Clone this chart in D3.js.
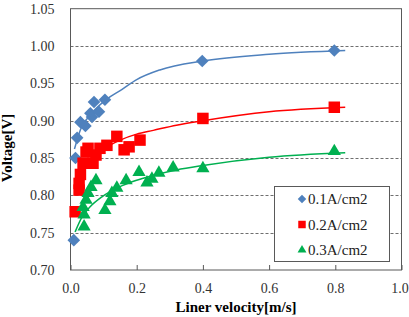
<!DOCTYPE html>
<html><head><meta charset="utf-8">
<script src="https://cdn.jsdelivr.net/npm/d3@7"></script>
<style>body{margin:0;background:#fff}svg{display:block}</style>
</head><body>
<svg id="c" width="409" height="317"></svg>
<script>
const seriesNames = ["0.1A/cm2", "0.2A/cm2", "0.3A/cm2"];
const colors = ["#4F81BD", "#FF0000", "#00B050"];
// measured points [velocity, voltage]
const s1 = [[0.010,0.740],[0.015,0.850],[0.020,0.877],[0.030,0.898],[0.045,0.893],[0.060,0.910],[0.065,0.905],[0.071,0.925],[0.086,0.912],[0.104,0.928],[0.398,0.980],[0.797,0.994]];
const s2 = [[0.014,0.778],[0.026,0.807],[0.026,0.816],[0.030,0.828],[0.038,0.843],[0.047,0.858],[0.053,0.863],[0.068,0.843],[0.077,0.854],[0.089,0.863],[0.110,0.867],[0.140,0.879],[0.162,0.861],[0.177,0.865],[0.210,0.874],[0.400,0.903],[0.797,0.918]];
const s3 = [[0.041,0.758],[0.041,0.774],[0.038,0.784],[0.047,0.794],[0.053,0.803],[0.062,0.811],[0.077,0.820],[0.104,0.780],[0.119,0.792],[0.125,0.803],[0.140,0.810],[0.168,0.820],[0.207,0.831],[0.231,0.817],[0.246,0.822],[0.267,0.830],[0.310,0.837],[0.400,0.836],[0.797,0.859]];
// trend curves
const t1 = [[0.012,0.862],[0.03,0.888],[0.06,0.908],[0.107,0.928],[0.156,0.942],[0.2,0.955],[0.27,0.968],[0.4,0.980],[0.6,0.989],[0.83,0.994]];
const t2 = [[0.014,0.800],[0.03,0.826],[0.05,0.842],[0.1,0.862],[0.15,0.874],[0.2,0.882],[0.25,0.887],[0.32,0.894],[0.4,0.900],[0.6,0.912],[0.83,0.918]];
const t3 = [[0.014,0.751],[0.035,0.771],[0.06,0.785],[0.095,0.798],[0.156,0.813],[0.22,0.823],[0.32,0.834],[0.4,0.840],[0.6,0.851],[0.83,0.857]];
const xTicks = [0, 0.2, 0.4, 0.6, 0.8, 1.0];
const yTicks = [0.70, 0.75, 0.80, 0.85, 0.90, 0.95, 1.00, 1.05];
const xTitle = "Liner velocity[m/s]";
const yTitle = "Voltage[V]";

const svg = d3.select("#c");
const L = 70.5, R = 401.5, T = 8.7, B = 270;
const x = d3.scaleLinear().domain([0, 1]).range([L, R]);
const y = d3.scaleLinear().domain([0.70, 1.05]).range([B, T]);
const font = "'Liberation Serif','Times New Roman',serif";

// gridlines
svg.append("g").selectAll("line").data(yTicks.filter(v => v > 0.71 && v < 1.04)).join("line")
  .attr("x1", L).attr("x2", R).attr("y1", d => Math.round(y(d)) + 0.5).attr("y2", d => Math.round(y(d)) + 0.5)
  .attr("stroke", "#6f6f6f").attr("stroke-width", 1).attr("stroke-dasharray", "3,2");

// x axis ticks (inside)
const xa = svg.append("g").attr("transform", `translate(0,${B})`)
  .call(d3.axisBottom(x).tickValues(xTicks).tickFormat(d3.format(".1f")).tickSizeInner(-5).tickSizeOuter(0).tickPadding(13));
xa.select(".domain").remove();
xa.selectAll("line").attr("stroke", "#595959");
xa.selectAll("text").attr("font-family", font).attr("font-size", 14).attr("fill", "#333")
  .attr("dx", d => d === 1 ? -2 : 0);

const ya = svg.append("g").attr("transform", `translate(${L},0)`)
  .call(d3.axisLeft(y).tickValues(yTicks).tickFormat(d3.format(".2f")).tickSize(0).tickPadding(16));
ya.select(".domain").remove();
ya.selectAll("text").attr("font-family", font).attr("font-size", 14).attr("fill", "#333");

// plot border
svg.append("rect").attr("x", L).attr("y", T).attr("width", R - L).attr("height", B - T)
  .attr("fill", "none").attr("stroke", "#595959").attr("stroke-width", 1);

const data = [s1, s2, s3];
const trends = [t1, t2, t3];
const shapes = [d3.symbolSquare, d3.symbolSquare, d3.symbolTriangle];
const sizes = [80, 132, 76];
const rot = [" rotate(45)", "", ""];
const line = d3.line().x(d => x(d[0])).y(d => y(d[1])).curve(d3.curveMonotoneX);

data.forEach((s, i) => {
  const g = svg.append("g");
  g.selectAll("path").data(s).join("path")
    .attr("transform", d => `translate(${x(d[0])},${y(d[1])})` + rot[i])
    .attr("d", d3.symbol().type(shapes[i]).size(sizes[i]))
    .attr("fill", colors[i]);
  svg.append("path").datum(trends[i]).attr("d", line)
    .attr("fill", "none").attr("stroke", colors[i]).attr("stroke-width", 1.5);
});

// legend
const lg = svg.append("g");
lg.append("rect").attr("x", 274.5).attr("y", 186.5).attr("width", 115).attr("height", 75)
  .attr("fill", "#fff").attr("stroke", "#595959");
const lsizes = [36, 56, 34];
seriesNames.forEach((n, i) => {
  const yy = 199 + i * 25.5;
  lg.append("path").attr("transform", `translate(302,${yy})` + rot[i])
    .attr("d", d3.symbol().type(shapes[i]).size(lsizes[i])).attr("fill", colors[i]);
  lg.append("text").attr("x", 308).attr("y", yy + 5).text(n)
    .attr("font-family", font).attr("font-size", 15).attr("fill", "#222");
});

svg.append("text").attr("x", (L + R) / 2).attr("y", 312).attr("text-anchor", "middle")
  .attr("font-family", font).attr("font-size", 15).attr("font-weight", "bold").text(xTitle);
svg.append("text").attr("transform", "translate(12,148) rotate(-90)").attr("text-anchor", "middle")
  .attr("font-family", font).attr("font-size", 15).attr("font-weight", "bold").text(yTitle);
</script>
</body></html>
